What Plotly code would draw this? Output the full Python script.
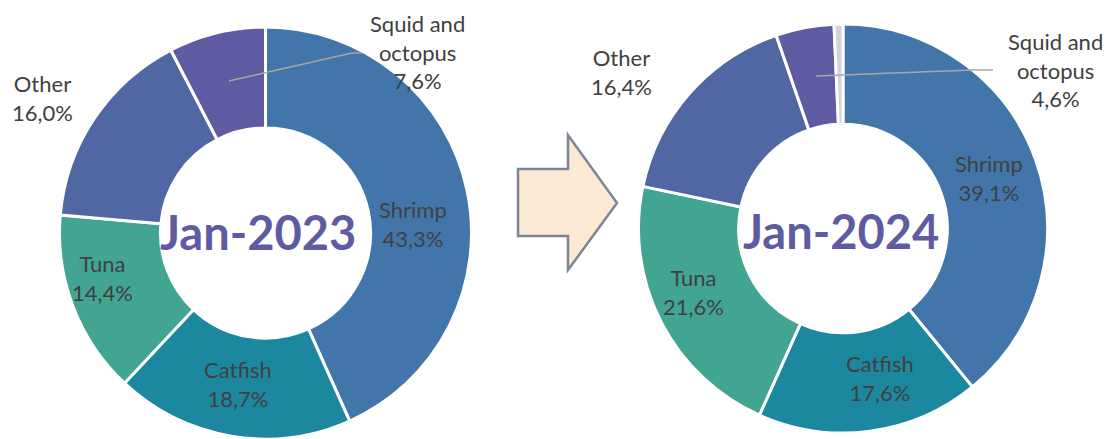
import plotly.graph_objects as go

W, H = 1109, 439

categories = ["Shrimp", "Catfish", "Tuna", "Other", "Squid and octopus", "Unlabeled"]
values_2023 = [43.3, 18.7, 14.4, 16.0, 7.6, 0.0]
values_2024 = [39.1, 17.6, 21.6, 16.4, 4.6, 0.7]
period_labels = ["Jan-2023", "Jan-2024"]

colors = ["#4275A9", "#1B88A0", "#41A592", "#5067A3", "#5F5BA2", "#D0D2DE"]
label_color = "#404040"
title_color = "#5F5BA3"


def px(x):
    return x / W


def py(y):
    return 1 - y / H


def fmt(v):
    return f"{v:.1f}".replace(".", ",") + "%"


def label_text(cat, v):
    name = cat.replace("Squid and octopus", "Squid and<br>octopus")
    return f"{name}<br>{fmt(v)}"


fig = go.Figure()

# donut geometry (pixels): centre and radius
donuts = [
    dict(cx=265.5, cy=233, r=206, vals=values_2023),
    dict(cx=843, cy=228.5, r=204.5, vals=values_2024),
]

for d in donuts:
    fig.add_trace(go.Pie(
        labels=categories,
        values=d["vals"],
        hole=0.51,
        sort=False,
        direction="clockwise",
        rotation=0,
        textinfo="none",
        hoverinfo="label+value",
        marker=dict(colors=colors, line=dict(color="white", width=3)),
        domain=dict(x=[px(d["cx"] - d["r"]), px(d["cx"] + d["r"])],
                    y=[py(d["cy"] + d["r"]), py(d["cy"] - d["r"])]),
        showlegend=False,
    ))

# label positions (pixel centres)
label_pos = [
    {"Shrimp": (413, 224), "Catfish": (238, 384), "Tuna": (102, 278),
     "Other": (42, 98), "Squid and octopus": (417, 52)},
    {"Shrimp": (989, 178), "Catfish": (880, 378), "Tuna": (693, 292),
     "Other": (621, 72), "Squid and octopus": (1055, 70)},
]

annotations = []
for i, vals in enumerate([values_2023, values_2024]):
    for cat, v in zip(categories, vals):
        if cat not in label_pos[i]:
            continue
        x, y = label_pos[i][cat]
        annotations.append(dict(
            x=px(x), y=py(y), xref="paper", yref="paper",
            text=label_text(cat, v), showarrow=False,
            font=dict(family="Lato", size=22, color=label_color),
            xanchor="center", yanchor="middle", align="center",
        ))

title_pos = [(258, 232), (841, 231)]
for (x, y), t in zip(title_pos, period_labels):
    annotations.append(dict(
        x=px(x), y=py(y), xref="paper", yref="paper",
        text=f"<b>{t}</b>", showarrow=False,
        font=dict(family="Lato", size=47, color=title_color),
        xanchor="center", yanchor="middle",
    ))


def path(points):
    s = "M " + " L ".join(f"{px(x)},{py(y)}" for x, y in points) + " Z"
    return s


shapes = [
    # arrow
    dict(type="path", xref="paper", yref="paper",
         path=path([(518, 169), (568, 169), (568, 135), (617, 203),
                    (568, 270), (568, 236), (518, 236)]),
         fillcolor="#FCE9D3", line=dict(color="#7A8597", width=2.5)),
]

leaders = [
    [(229, 81), (352, 53), (362, 53)],
    [(816, 76), (972, 70), (993, 70)],
]
for pts in leaders:
    for (x0, y0), (x1, y1) in zip(pts[:-1], pts[1:]):
        shapes.append(dict(type="line", xref="paper", yref="paper",
                           x0=px(x0), y0=py(y0), x1=px(x1), y1=py(y1),
                           line=dict(color="#A6A6A6", width=1.5)))

fig.update_layout(
    width=W, height=H,
    margin=dict(l=0, r=0, t=0, b=0),
    paper_bgcolor="white", plot_bgcolor="white",
    annotations=annotations,
    shapes=shapes,
)

fig.write_html("out.html", config={"displayModeBar": False},
               post_script="document.body.style.margin='0';")
